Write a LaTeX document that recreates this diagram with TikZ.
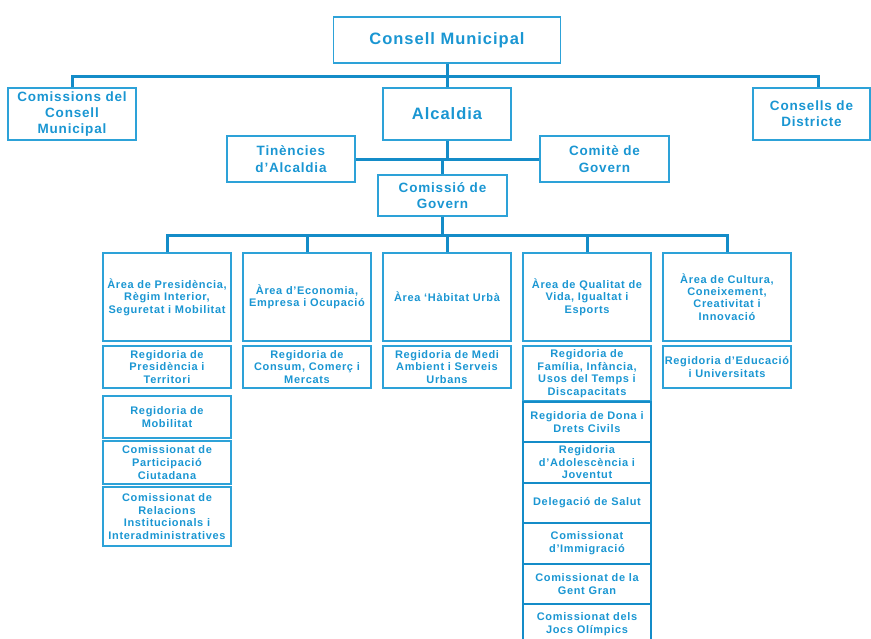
\documentclass[tikz,border=0pt]{standalone}
\usepackage{fontspec}
\newfontfamily\orgfont[LetterSpace=6]{Liberation Sans}
\usetikzlibrary{positioning}
\definecolor{orgtext}{RGB}{26,150,210}
\definecolor{orgframe}{RGB}{45,162,216}
\definecolor{orgline}{RGB}{20,140,200}
\tikzset{
  orgbox/.style={
    draw=orgframe,
    line width=1.3pt,
    text=orgtext,
    align=center,
    inner xsep=0pt,
    inner ysep=1pt
  },
  topbox/.style={orgbox, font=\orgfont\bfseries\fontsize{16.5}{20}\selectfont},
  headbox/.style={orgbox, font=\orgfont\bfseries\fontsize{13.5}{16.3}\selectfont},
  areabox/.style={orgbox, minimum width=128, minimum height=88,
    font=\orgfont\bfseries\fontsize{11}{12.3}\selectfont},
  regbox/.style={orgbox, minimum width=128, minimum height=42,
    font=\orgfont\bfseries\fontsize{11}{12.6}\selectfont},
  stackbox/.style={regbox, draw=orgline, line width=1.8pt, outer sep=0pt, minimum height=40.5},
  link/.style={draw=orgline, line width=3pt}
}

\begin{document}
\begin{tikzpicture}[x=1pt,y=-1pt]
  \useasboundingbox (0,0) rectangle (871,638);
  \node[topbox, minimum width=227, minimum height=46] (consell) at (447,40) {Consell Municipal};
  \node[headbox, minimum width=128, minimum height=52] (comissions) at (72,114) {Comissions del\\Consell\\Municipal};
  \node[topbox, minimum width=128, minimum height=52] (alcaldia) at (447,114) {Alcaldia};
  \node[headbox, minimum width=117, minimum height=52] (districte) at (811.5,114) {Consells de\\Districte};
  \node[headbox, minimum width=128, minimum height=46] (tinencies) at (291,159) {Tinències\\d’Alcaldia};
  \node[headbox, minimum width=129, minimum height=46] (comite) at (604.5,159) {Comitè de\\Govern};
  \node[headbox, minimum width=129, minimum height=41] (comissio) at (442.5,195.5) {Comissió de\\Govern};

  \node[areabox] (presidencia) at (167,297) {Àrea de Presidència,\\Règim Interior,\\Seguretat i Mobilitat};
  \node[areabox] (economia) at (307,297) {Àrea d’Economia,\\Empresa i Ocupació};
  \node[areabox] (habitat) at (447,297) {Àrea ‘Hàbitat Urbà};
  \node[areabox] (qualitat) at (587,297) {Àrea de Qualitat de\\Vida, Igualtat i\\Esports};
  \node[areabox] (cultura) at (727,297) {Àrea de Cultura,\\Coneixement,\\Creativitat i\\Innovació};

  \node[regbox] (regpresidencia) at (167,367) {Regidoria de\\Presidència i\\Territori};
  \node[regbox] (regmobilitat) at (167,417) {Regidoria de\\Mobilitat};
  \node[regbox, minimum height=43] (comparticipacio) at (167,462.5) {Comissionat de\\Participació\\Ciutadana};
  \node[regbox, minimum height=59] (comrelacions) at (167,516.5) {Comissionat de\\Relacions\\Institucionals i\\Interadministratives};
  \node[regbox] (regconsum) at (307,367) {Regidoria de\\Consum, Comerç i\\Mercats};
  \node[regbox] (regmedi) at (447,367) {Regidoria de Medi\\Ambient i Serveis\\Urbans};
  \node[regbox, minimum height=55] (regfamilia) at (587,373.5) {Regidoria de\\Família, Infància,\\Usos del Temps i\\Discapacitats};
  \node[stackbox, below=0pt of regfamilia] (regdona) {Regidoria de Dona i\\Drets Civils};
  \node[stackbox, below=0pt of regdona] (regadolescencia) {Regidoria\\d’Adolescència i\\Joventut};
  \node[stackbox, below=0pt of regadolescencia] (delsalut) {Delegació de Salut};
  \node[stackbox, below=0pt of delsalut] (comimmigracio) {Comissionat\\d’Immigració};
  \node[stackbox, below=0pt of comimmigracio] (comgentgran) {Comissionat de la\\Gent Gran};
  \node[stackbox, below=0pt of comgentgran] (comjocs) {Comissionat dels\\Jocs Olímpics};
  \node[regbox] (regeducacio) at (727,367) {Regidoria d’Educació\\i Universitats};

  \coordinate (topbus) at (447,76);
  \coordinate (areabus) at (447,235);
  \draw[link] (consell) -- (alcaldia);
  \draw[link] (comissions.north) |- (topbus) -| ([xshift=6.5]districte.north);
  \draw[link] (alcaldia.south) -- (alcaldia.south |- tinencies.east);
  \draw[link] (tinencies) -- (comite);
  \draw[link] (comissio.north) -- (comissio.north |- tinencies.east);
  \draw[link] (comissio.south) -- (comissio.south |- areabus);
  \draw[link] (presidencia.north) |- (areabus) -| (cultura.north);
  \foreach \area in {economia,habitat,qualitat}
    \draw[link] (\area.north) -- (\area.north |- areabus);
\end{tikzpicture}
\end{document}
